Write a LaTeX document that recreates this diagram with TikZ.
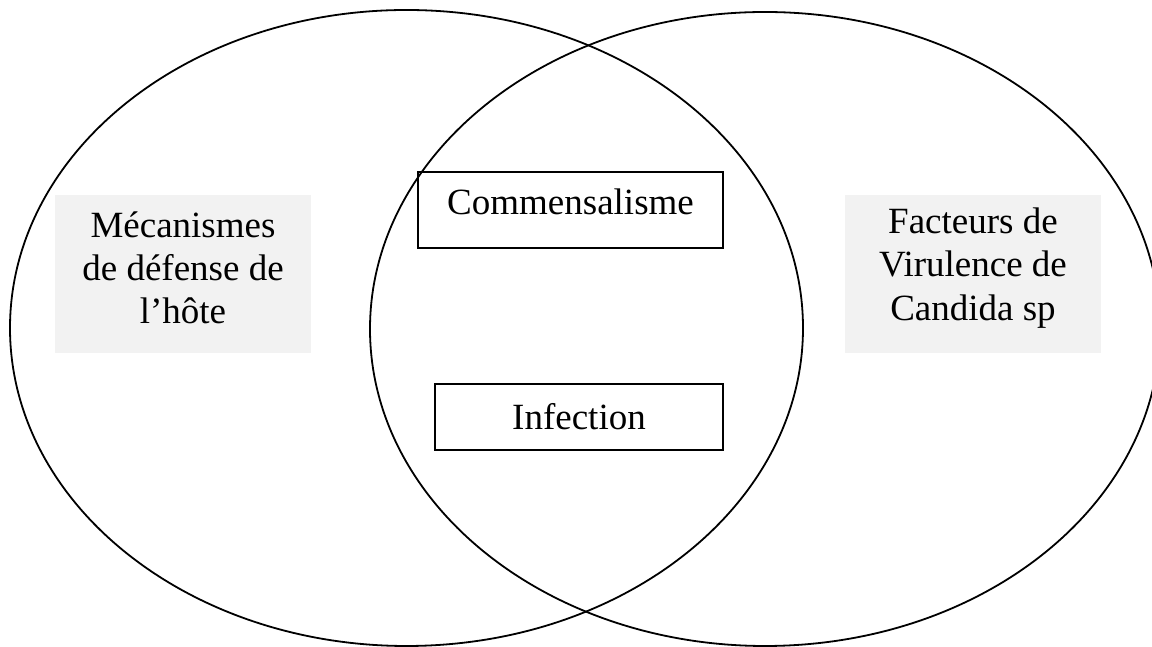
\documentclass[tikz,border=0pt]{standalone}
\usepackage{fontspec}
\setmainfont{Liberation Serif}
\begin{document}
\begin{tikzpicture}[x=1pt,y=1pt,
  bigfont/.style={font=\fontsize{37}{43.3}\selectfont},
  venn/.style={draw=black,line width=1.8pt},
  graybox/.style={fill=black!5,draw=none,minimum width=256pt,minimum height=158pt,inner sep=0pt},
  graytext/.style={bigfont,align=center,inner sep=0pt},
  whitebox/.style={bigfont,draw=black,line width=1.5pt,inner sep=0pt,anchor=base}
]
\useasboundingbox (0,0) rectangle (1152,647);
\clip (0,0) rectangle (1152,647);
\fill[white] (0,0) rectangle (1152,647);
% ellipses
\draw[venn] (406.5,319) ellipse [x radius=396.5pt, y radius=318pt];
\draw[venn] (765,318) ellipse [x radius=395pt, y radius=317pt];
% gray boxes
\node[graybox] (hote) at (183,373) {};
\node[graytext] (hotetext) at ([yshift=6pt]hote.center) {Mécanismes\\de défense de\\l’hôte};
\node[graybox] (candida) at (973,373) {};
\node[graytext] (candidatext) at ([yshift=6pt]candida.center) {Facteurs de\\Virulence de\\Candida sp};
% white boxes
\node[whitebox,minimum width=305pt,text height=43pt,text depth=33pt] (comm) at (570.5,432) {Commensalisme};
\node[whitebox,minimum width=288pt,text height=46pt,text depth=20pt] (inf) at (579,217) {Infection};
\end{tikzpicture}
\end{document}
